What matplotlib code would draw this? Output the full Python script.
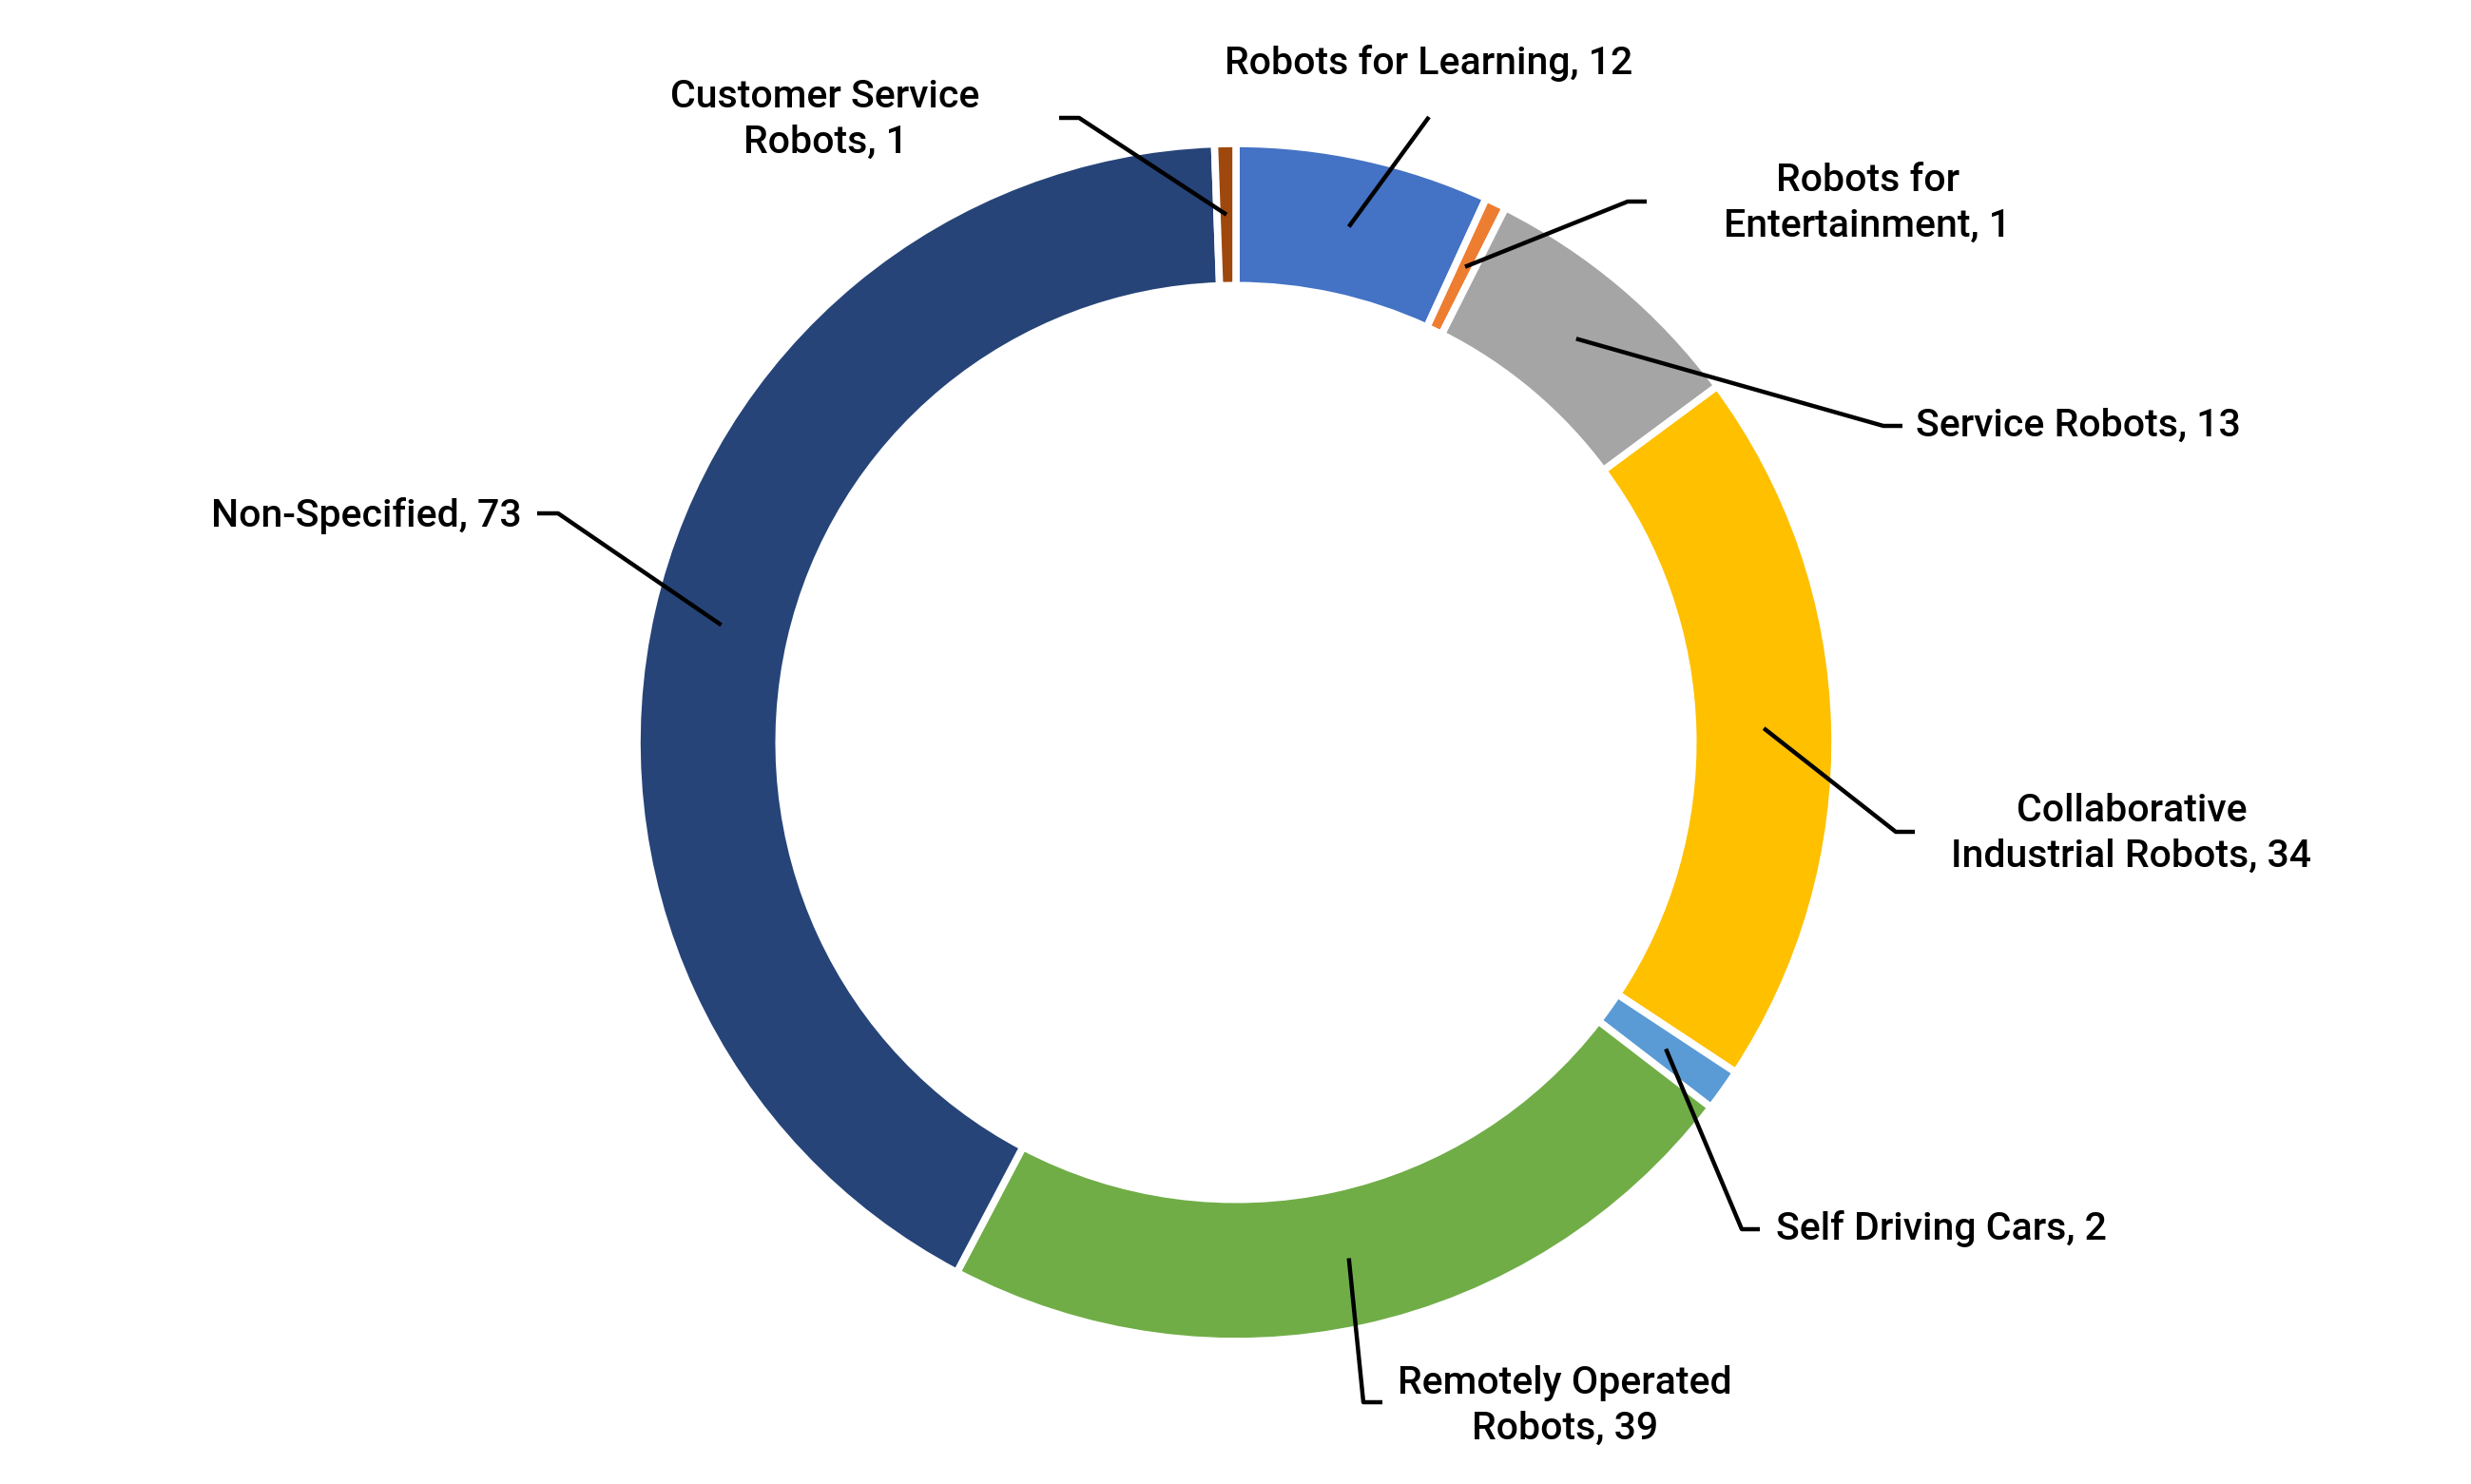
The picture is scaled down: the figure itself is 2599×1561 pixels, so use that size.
import matplotlib.pyplot as plt
import numpy as np

labels = ["Robots for Learning", "Robots for\nEntertainment", "Service Robots",
          "Collaborative\nIndustrial Robots", "Self Driving Cars",
          "Remotely Operated\nRobots", "Non-Specified", "Customer Service\nRobots"]
values = [12, 1, 13, 34, 2, 39, 73, 1]
colors = ["#4472C4", "#ED7D31", "#A5A5A5", "#FFC000", "#5B9BD5",
          "#70AD47", "#264478", "#9E480E"]

# label layout in figure pixels (y from top): elbow, line end, text anchor, align
elbows = [(1503, 123), (1712, 212), (1981, 448), (1994, 875), (1832, 1293),
          (1434, 1475), (587, 540), (1135, 124)]
ends = [None, (1732, 212), (2001, 448), (2014, 875), (1851, 1293),
        (1454, 1475), (565, 540), (1114, 124)]
anchors = [(1503, 66), (1964, 214), (2015, 448), (2242, 877), (1868, 1293),
           (1646, 1479), (549, 542), (868, 126)]
aligns = ["center", "center", "left", "center", "left", "center", "right", "center"]

W, H = 2599, 1561
cx, cy, R = 1300, H - 781, 630
ring = 0.237

plt.rcParams['font.family'] = ['Roboto', 'DejaVu Sans']
fig = plt.figure(figsize=(W / 100, H / 100), dpi=100)
ax = fig.add_axes([0, 0, 1, 1])

ax.pie(values, colors=colors, startangle=90, counterclock=False,
       center=(cx, cy), radius=R, frame=True,
       wedgeprops=dict(width=R * ring, edgecolor='white', linewidth=5.5))
ax.set_xlim(0, W)
ax.set_ylim(0, H)
ax.set_aspect('equal')
ax.axis('off')

total = sum(values)
acc = 0
for i, v in enumerate(values):
    mid = 90 - 360 * (acc + v / 2) / total
    acc += v
    r0 = R * (1 - ring / 2)
    x0 = cx + r0 * np.cos(np.radians(mid))
    y0 = cy + r0 * np.sin(np.radians(mid))
    xs = [x0, elbows[i][0]]
    ys = [y0, H - elbows[i][1]]
    if ends[i] is not None:
        xs.append(ends[i][0])
        ys.append(H - ends[i][1])
    ax.plot(xs, ys, color='black', lw=3.2, solid_capstyle='butt', zorder=5)
    txt = "{}, {}".format(labels[i], v)
    ax.text(anchors[i][0], H - anchors[i][1], txt, ha=aligns[i], va='center',
            multialignment='center', fontsize=29.5, fontweight='medium',
            linespacing=1.35, color='black')

fig.savefig("out.png", dpi=100)
